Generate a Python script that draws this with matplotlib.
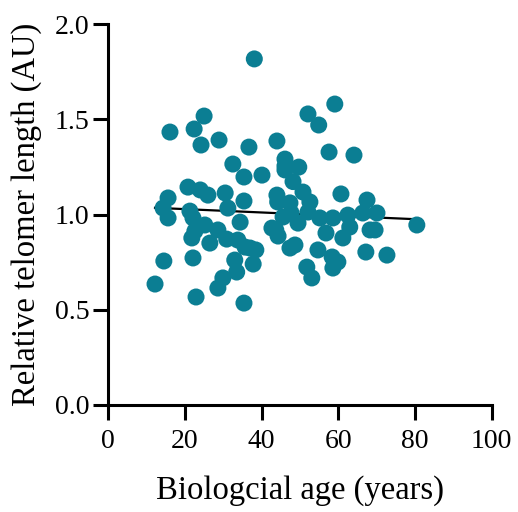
import numpy as np
import matplotlib
matplotlib.use("Agg")
from matplotlib import pyplot as plt

# pixel-read positions converted to data units
age = [38.1, 16.1, 22.4, 25.0, 28.9, 24.2, 36.7, 44.0, 46.1, 46.1,
       32.5, 40.1, 35.4, 46.1, 49.7, 59.1, 52.1, 54.9, 57.6, 64.1,
       48.2, 20.8, 24.0, 26.0, 30.5, 15.6, 14.3, 15.6, 35.4, 21.3,
       22.1, 44.2, 44.0, 31.2, 34.4, 22.6, 25.2, 21.8, 28.6, 26.5,
       30.9, 35.7, 38.5, 33.8, 37.0, 37.8, 33.0, 42.7, 44.3, 47.4,
       48.7, 14.5, 22.1, 12.2, 33.5, 29.9, 28.6, 22.9, 35.4, 60.7,
       50.8, 52.6, 47.4, 47.7, 45.6, 52.1, 55.2, 58.6, 62.5, 63.0,
       49.5, 43.7, 56.8, 61.2, 67.5, 70.1, 66.4, 80.5, 68.3, 69.6,
       54.7, 58.4, 59.9, 58.6, 51.8, 53.1, 67.2, 72.7]
telomere = [1.817, 1.433, 1.449, 1.517, 1.391, 1.365, 1.354, 1.386, 1.291, 1.255,
            1.265, 1.207, 1.197, 1.234, 1.249, 1.580, 1.528, 1.470, 1.328, 1.312,
            1.173, 1.144, 1.129, 1.102, 1.113, 1.087, 1.034, 0.982, 1.071, 1.018,
            0.982, 1.066, 1.102, 1.034, 0.960, 0.913, 0.945, 0.877, 0.919, 0.850,
            0.871, 0.829, 0.814, 0.866, 0.824, 0.740, 0.761, 0.929, 0.887, 0.824,
            0.840, 0.756, 0.772, 0.635, 0.698, 0.667, 0.614, 0.567, 0.535, 1.108,
            1.118, 1.066, 1.061, 1.008, 0.987, 1.013, 0.982, 0.982, 0.997, 0.934,
            0.955, 0.919, 0.903, 0.877, 1.076, 1.008, 1.008, 0.945, 0.919, 0.919,
            0.814, 0.777, 0.751, 0.719, 0.724, 0.667, 0.803, 0.787]

fit_slope = -0.00088
fit_intercept = 1.046

plt.rcParams['font.family'] = ['Liberation Serif', 'DejaVu Serif']

fig = plt.figure(figsize=(5.18, 5.12), dpi=100)
ax = fig.add_axes([0.209, 0.209, 0.740, 0.744])

fx = np.array([min(age), max(age)])
ax.plot(fx, fit_intercept + fit_slope * fx, color='black', lw=1.6, zorder=2)
ax.scatter(age, telomere, s=150, color='#0B7E93', edgecolors='none', zorder=3)

ax.set_xlim(0, 100)
ax.set_ylim(0, 2.0)
ax.set_xticks([0, 20, 40, 60, 80, 100])
ax.set_yticks([0.0, 0.5, 1.0, 1.5, 2.0])
ax.set_yticklabels(['0.0', '0.5', '1.0', '1.5', '2.0'])

for s in ['top', 'right']:
    ax.spines[s].set_visible(False)
for s in ['left', 'bottom']:
    ax.spines[s].set_linewidth(2.2)

ax.tick_params(axis='both', which='major', labelsize=20, length=10.5, width=2.2)
ax.tick_params(axis='x', pad=7)
ax.tick_params(axis='y', pad=3)

ax.set_xlabel('Biologcial age (years)', fontsize=23.5, labelpad=15)
ax.set_ylabel('Relative telomer length (AU)', fontsize=23.5, labelpad=9)

fig.savefig('out.png', dpi=100)
